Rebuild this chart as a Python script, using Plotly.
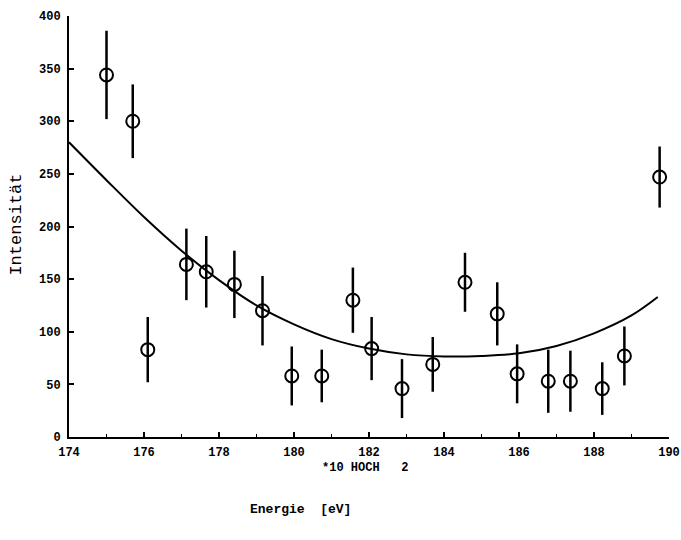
import plotly.graph_objects as go

# measured data points
energy = [175.0, 175.7, 176.1, 177.13, 177.66, 178.41, 179.16, 179.94, 180.74, 181.57,
          182.07, 182.88, 183.7, 184.56, 185.42, 185.95, 186.78, 187.37, 188.22, 188.81, 189.75]
intensity = [344, 300, 83, 164, 157, 145, 120, 58, 58, 130,
             84, 46, 69, 147, 117, 60, 53, 53, 46, 77, 247]
error = [42, 35, 31, 34, 34, 32, 33, 28, 25, 31,
         30, 28, 26, 28, 30, 28, 30, 29, 25, 28, 29]

# fitted curve
fit_energy = [174, 175, 176, 177, 178, 179, 180, 181, 182, 183, 184, 185, 186, 187, 188, 189, 189.7]
fit_intensity = [280, 244, 209, 177, 149, 125, 107, 93, 84, 78.5, 76.5, 77, 79.5, 86.5, 98.5, 115.5, 133]

x_ticks = [174, 176, 178, 180, 182, 184, 186, 188, 190]
y_ticks = [0, 50, 100, 150, 200, 250, 300, 350, 400]

mono = "Liberation Mono, DejaVu Sans Mono, monospace"

fig = go.Figure()
fig.add_trace(go.Scatter(
    x=fit_energy, y=fit_intensity, mode="lines", line=dict(color="black", width=2, shape="spline", smoothing=1.0),
    showlegend=False, hoverinfo="skip"))
fig.add_trace(go.Scatter(
    x=energy, y=intensity, mode="markers",
    marker=dict(symbol="circle-open", size=13, color="black", line=dict(width=2, color="black")),
    error_y=dict(type="data", array=error, visible=True, color="black", thickness=2.5, width=0),
    showlegend=False))

fig.update_layout(
    width=681, height=540,
    margin=dict(l=69, r=12, t=16, b=103, autoexpand=False),
    paper_bgcolor="white", plot_bgcolor="white",
    font=dict(family=mono, color="black"),
    xaxis=dict(range=[174, 190], tickvals=x_ticks, ticktext=[str(v) for v in x_ticks],
               showgrid=False, zeroline=False, showline=True, linecolor="black", linewidth=2,
               ticks="inside", ticklen=5, tickwidth=1.5, tickcolor="black",
               minor=dict(dtick=1, ticks="inside", ticklen=3, tickcolor="black", tickwidth=1),
               tickfont=dict(family=mono, size=12, weight="bold", color="black"),
               ticklabelstandoff=3,
               fixedrange=True),
    yaxis=dict(range=[0, 400], tickvals=y_ticks, ticktext=[str(v) for v in y_ticks],
               showgrid=False, zeroline=False, showline=True, linecolor="black", linewidth=2,
               ticks="inside", ticklen=5, tickwidth=1.5, tickcolor="black",
               tickfont=dict(family=mono, size=12, weight="bold", color="black"),
               ticklabelstandoff=4,
               fixedrange=True),
    annotations=[
        dict(text="*10 HOCH   2", xref="paper", yref="paper", x=0.493, y=-0.052,
             xanchor="center", yanchor="top", showarrow=False,
             font=dict(family=mono, size=12, weight="bold", color="black")),
        dict(text="Energie  [eV]", xref="paper", yref="paper", x=0.385, y=-0.15,
             xanchor="center", yanchor="top", showarrow=False,
             font=dict(family=mono, size=13, weight="bold", color="black")),
        dict(text="Intensität", xref="paper", yref="paper", x=-0.088, y=0.505,
             xanchor="center", yanchor="middle", showarrow=False, textangle=-90,
             font=dict(family=mono, size=17, color="black")),
    ],
)

fig.write_html("out.html")
